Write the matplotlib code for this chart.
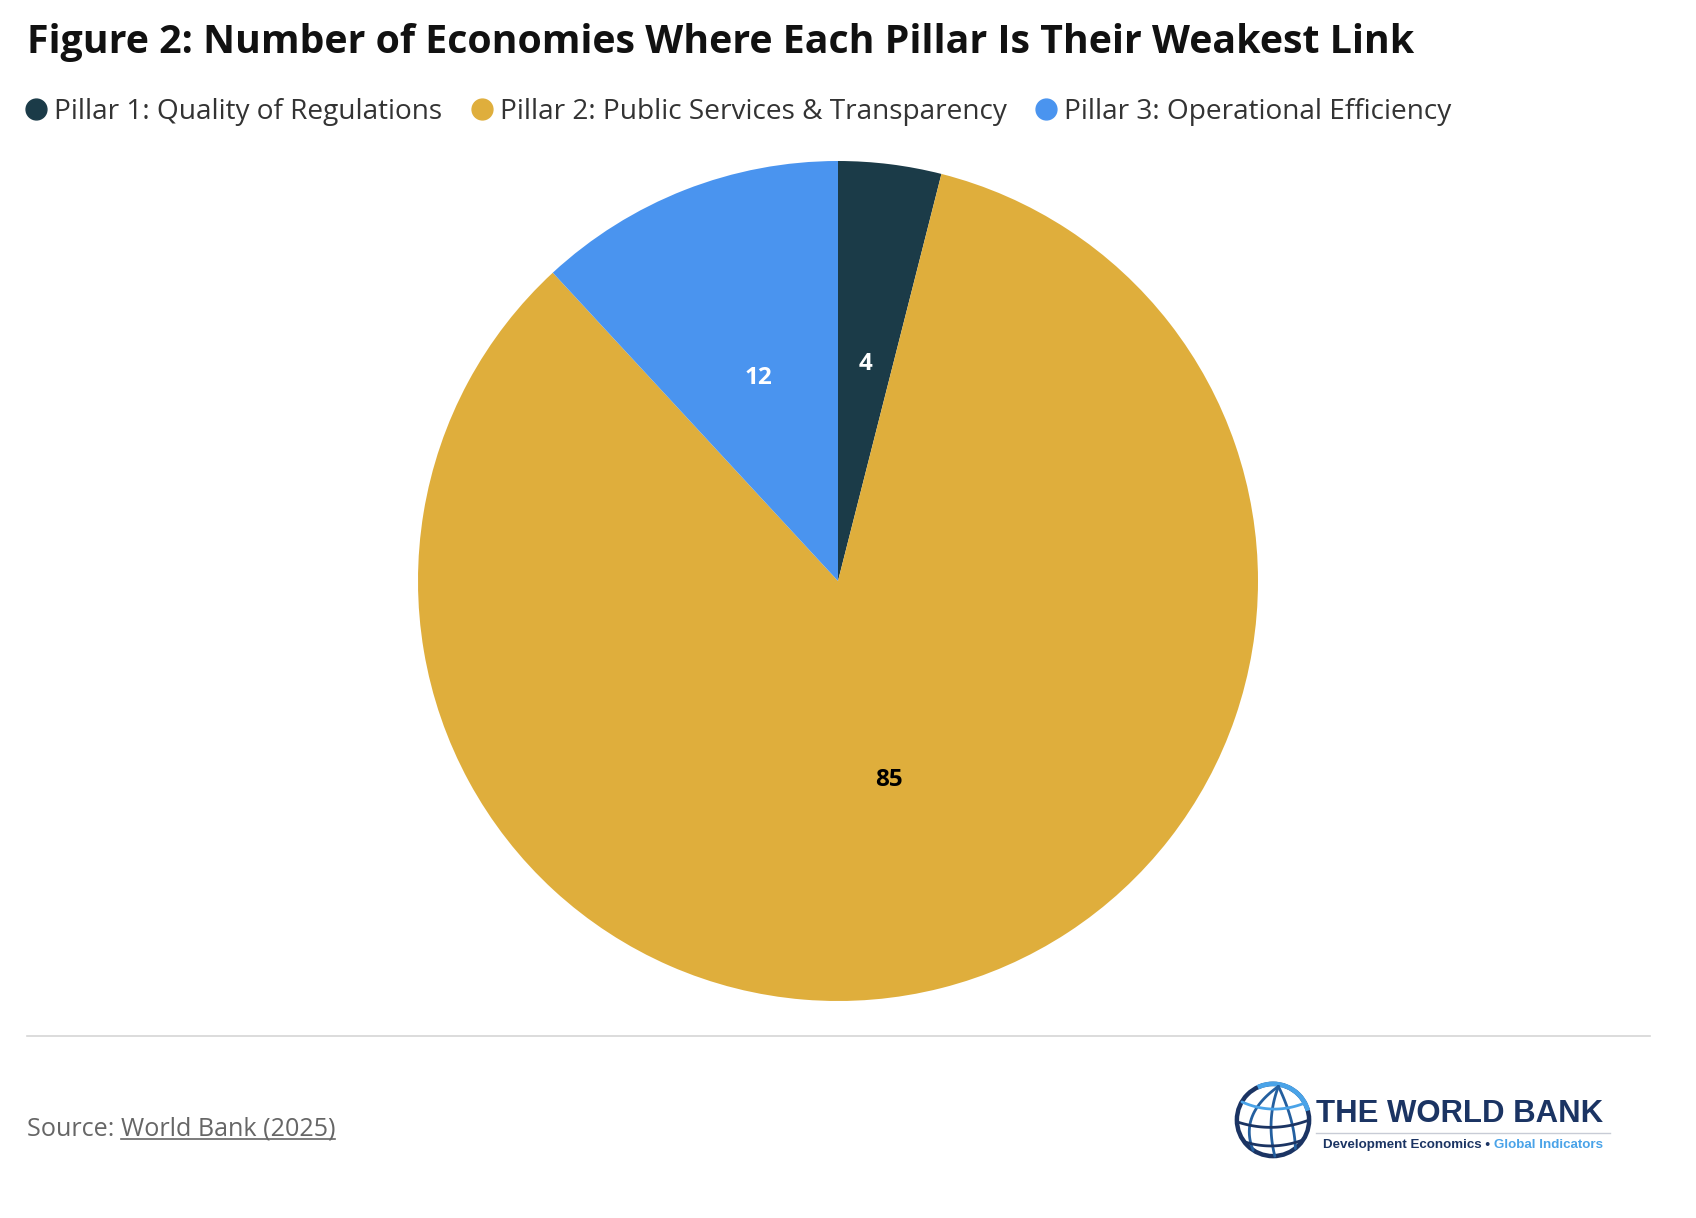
import numpy as np
import matplotlib
matplotlib.use("Agg")
from matplotlib import pyplot as plt
from matplotlib.lines import Line2D
from matplotlib.patches import Circle, Arc

plt.rcParams["font.family"] = ["Open Sans", "DejaVu Sans"]

# data
labels = ["Pillar 1: Quality of Regulations",
          "Pillar 2: Public Services & Transparency",
          "Pillar 3: Operational Efficiency"]
values = [4, 85, 12]
colors = ["#1b3b48", "#dfae3c", "#4a94ef"]
label_colors = ["white", "black", "white"]
label_dist = [0.52, 0.49, 0.52]

W, H = 1696, 1218


def fx(x):
    return x / W


def fy(y):
    return 1 - y / H


fig = plt.figure(figsize=(W / 100, H / 100), dpi=100)

# title
fig.text(fx(27), fy(42), "Figure 2: Number of Economies Where Each Pillar Is Their Weakest Link",
         fontsize=28.3, fontweight="bold", color="#111111", va="center", ha="left")

# pie
cx, cy, r = 838, 581, 420
ax = fig.add_axes([fx(cx - r), fy(cy + r), 2 * r / W, 2 * r / H])
wedges, _ = ax.pie(values, colors=colors, startangle=90, counterclock=False,
                   radius=1, wedgeprops=dict(linewidth=0))
tot = sum(values)
start = 90
for v, c, d in zip(values, label_colors, label_dist):
    mid = np.deg2rad(start - v / tot * 360 / 2)
    start -= v / tot * 360
    ax.text(d * np.cos(mid), d * np.sin(mid), str(v), ha="center", va="center",
            fontsize=17.5, fontweight="bold", color=c)
ax.set_xlim(-1, 1)
ax.set_ylim(-1, 1)
ax.set_aspect("equal")
ax.axis("off")

# legend
handles = [Line2D([], [], marker="o", linestyle="", markersize=15,
                  markerfacecolor=c, markeredgecolor=c) for c in colors]
fig.legend(handles, labels, loc="center left", bbox_to_anchor=(fx(25), fy(112)),
           ncol=3, frameon=False, fontsize=20.2, handlelength=0.8, handletextpad=0.25,
           columnspacing=1.0, labelcolor="#333333", borderaxespad=0, borderpad=0)

# separator
fig.add_artist(Line2D([fx(27), fx(1650)], [fy(1036), fy(1036)], color="#d6d6d6", lw=1.2))

# source
t1 = fig.text(fx(27), fy(1129), "Source: ", fontsize=18.1, color="#666666", va="center")
fig.canvas.draw()
rend = fig.canvas.get_renderer()
bb = t1.get_window_extent(rend)
t2 = fig.text(bb.x1 / W, fy(1129), "World Bank (2025)", fontsize=18.1, color="#666666", va="center")
bb2 = t2.get_window_extent(rend)
fig.add_artist(Line2D([bb2.x0 / W, bb2.x1 / W], [(bb2.y0 + 3) / H, (bb2.y0 + 3) / H],
                      color="#666666", lw=1.2))

# logo globe
gx, gy, gr = 1273, 1120, 36
lax = fig.add_axes([fx(gx - gr - 3), fy(gy + gr + 3), (2 * gr + 6) / W, (2 * gr + 6) / H])
lax.set_xlim(-1.08, 1.08)
lax.set_ylim(-1.08, 1.08)
lax.set_aspect("equal")
lax.axis("off")
navy = "#1b3463"
mblue = "#245f9f"
lblue = "#4aa3e8"
lax.add_patch(Circle((0, 0), 1, fill=False, lw=3.2, ec=navy))
lax.add_patch(Arc((0, 0), 2, 2, theta1=15, theta2=115, lw=3.4, ec=lblue))


def bez(p, c, e, col, lw=2.0):
    t = np.linspace(0, 1, 40)[:, None]
    pts = (1 - t) ** 2 * np.array(p) + 2 * (1 - t) * t * np.array(c) + t ** 2 * np.array(e)
    lax.plot(pts[:, 0], pts[:, 1], color=col, lw=lw, solid_capstyle="round")


pole = (0.15, 0.93)
bez(pole, (-0.95, 0.15), (-0.55, -0.84), mblue)
bez(pole, (-0.2, 0.0), (0.05, -1.0), mblue)
bez(pole, (0.6, 0.0), (0.62, -0.79), mblue)
bez((-0.86, 0.5), (0.0, 0.12), (0.88, 0.47), lblue)
bez((-1.0, -0.05), (0.0, -0.38), (1.0, 0.0), navy)
bez((-0.8, -0.6), (0.0, -0.86), (0.84, -0.55), navy)

fig.text(fx(1316), fy(1114), "THE WORLD BANK", fontsize=22.4, fontweight="bold",
         family=["Liberation Sans", "DejaVu Sans"], color=navy, va="center", ha="left")
fig.add_artist(Line2D([fx(1316), fx(1610)], [fy(1133), fy(1133)], color="#c8ccd6", lw=1))
t3 = fig.text(fx(1323), fy(1145), "Development Economics \u2022 ", fontsize=9.6,
              fontweight="bold", family=["Liberation Sans", "DejaVu Sans"], color=navy,
              va="center", ha="left")
bb3 = t3.get_window_extent(rend)
fig.text(bb3.x1 / W, fy(1145), "Global Indicators", fontsize=9.6, fontweight="bold",
         family=["Liberation Sans", "DejaVu Sans"], color=lblue, va="center", ha="left")

fig.savefig("out.png", dpi=100, facecolor="white")
